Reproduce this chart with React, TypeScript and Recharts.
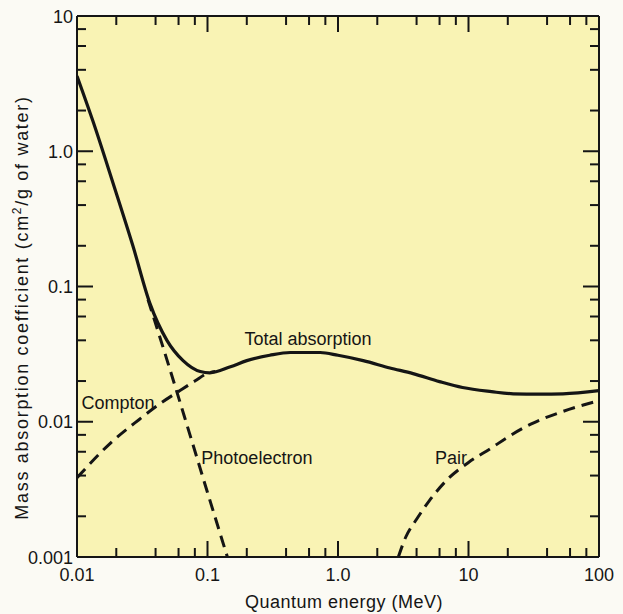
import React from "react";
import { LineChart, Line, XAxis, YAxis, CartesianGrid, ReferenceDot } from "recharts";

// energy axis (MeV), log scale
const energyTicks = [0.01, 0.02, 0.04, 0.06, 0.08, 0.1, 0.2, 0.4, 0.6, 0.8, 1, 2, 4, 6, 8, 10, 20, 40, 60, 80, 100];
const energyMajor = [0.01, 0.1, 1, 10, 100];
const energyLabels = ["0.01", "0.1", "1.0", "10", "100"];

// coefficient axis (cm2/g), log scale
const coeffTicks = [0.001, 0.002, 0.004, 0.006, 0.008, 0.01, 0.02, 0.04, 0.06, 0.08, 0.1, 0.2, 0.4, 0.6, 0.8, 1, 2, 4, 6, 8, 10];
const coeffMajor = [0.001, 0.01, 0.1, 1, 10];
const coeffLabels = ["0.001", "0.01", "0.1", "1.0", "10"];

const totalEnergy = [0.01, 0.0133, 0.0189, 0.0268, 0.0362, 0.049, 0.065, 0.088, 0.104, 0.15, 0.2, 0.3, 0.43, 0.73, 1.0, 1.56, 2.5, 3.76, 6, 9, 15, 22, 35, 53, 100];
const totalCoeff = [3.6, 1.65, 0.58, 0.2, 0.075, 0.0398, 0.0283, 0.0235, 0.023, 0.0255, 0.0283, 0.031, 0.0325, 0.0325, 0.031, 0.0283, 0.025, 0.0227, 0.0198, 0.0179, 0.0167, 0.0161, 0.016, 0.0161, 0.017];

const comptonEnergy = [0.01, 0.0179, 0.03, 0.0432, 0.0615, 0.08, 0.1, 0.115];
const comptonCoeff = [0.00385, 0.0069, 0.0104, 0.0136, 0.017, 0.02, 0.0228, 0.0235];

const photoEnergy = [0.035, 0.05, 0.07, 0.1, 0.142];
const photoCoeff = [0.08, 0.0268, 0.0093, 0.003, 0.001];

const pairEnergy = [2.9, 3.3, 4, 5, 7, 10, 15, 20, 30, 50, 70, 100];
const pairCoeff = [0.001, 0.0014, 0.0019, 0.0026, 0.0038, 0.005, 0.0064, 0.0077, 0.0096, 0.0117, 0.013, 0.0143];

const zip = (xs: number[], ys: number[]) => xs.map((x, i) => ({ x, y: ys[i] }));
const totalData = zip(totalEnergy, totalCoeff);
const comptonData = zip(comptonEnergy, comptonCoeff);
const photoData = zip(photoEnergy, photoCoeff);
const pairData = zip(pairEnergy, pairCoeff);

const INK = "#151515";
const FONT = "'Liberation Sans', Arial, Helvetica, sans-serif";

function majorIndex(majors: number[], v: number) {
  return majors.findIndex((m) => Math.abs(m - v) / m < 1e-6);
}

function makeTick(side: "bottom" | "top" | "left" | "right", majors: number[], labels: string[] | null) {
  return (props: any) => {
    const { x, y, payload } = props;
    const idx = majorIndex(majors, payload.value);
    const len = idx >= 0 ? 16 : 9;
    let x2 = x, y2 = y;
    if (side === "bottom") y2 = y - len;
    if (side === "top") y2 = y + len;
    if (side === "left") x2 = x + len;
    if (side === "right") x2 = x - len;
    return (
      <g>
        <line x1={x} y1={y} x2={x2} y2={y2} stroke={INK} strokeWidth={2} />
        {labels && idx >= 0 && side === "bottom" && (
          <text x={x} y={y + 24} textAnchor="middle" fontSize={18} fontFamily={FONT} fill={INK}>
            {labels[idx]}
          </text>
        )}
        {labels && idx >= 0 && side === "left" && (
          <text x={x - 4} y={y + 6.5} textAnchor="end" fontSize={18} fontFamily={FONT} fill={INK}>
            {labels[idx]}
          </text>
        )}
      </g>
    );
  };
}

function XTitle(props: any) {
  const vb = props.viewBox;
  return (
    <text
      x={vb.x + vb.width / 2 + 6}
      y={vb.y + 51}
      textAnchor="middle"
      fontSize={18}
      letterSpacing={0.5}
      fontFamily={FONT}
      fill={INK}
    >
      Quantum energy (MeV)
    </text>
  );
}

function YTitle(props: any) {
  const vb = props.viewBox;
  const cx = vb.x + 11;
  const cy = vb.y + vb.height / 2 + 21;
  return (
    <text
      x={cx}
      y={cy}
      transform={`rotate(-90, ${cx}, ${cy})`}
      textAnchor="middle"
      fontSize={18}
      letterSpacing={1.7}
      fontFamily={FONT}
      fill={INK}
    >
      Mass absorption coefficient (cm
      <tspan dy={-7} fontSize={12}>2</tspan>
      <tspan dy={7}>/g of water)</tspan>
    </text>
  );
}

const axisLine = { stroke: INK, strokeWidth: 2 };

export default function App() {
  const labelStyle = { fontSize: 18, fontFamily: FONT, fill: INK };
  return (
    <div style={{ position: "absolute", left: 0, top: 0, width: 623, height: 614, background: "#FBFAF4" }}>
      <LineChart width={623} height={614} margin={{ top: 15, right: 23, left: 17, bottom: 0 }}>
        <CartesianGrid fill="#F9F3B4" stroke="none" horizontal={false} vertical={false} />
        <XAxis
          xAxisId="bottom"
          dataKey="x"
          type="number"
          scale="log"
          domain={[0.01, 100]}
          allowDataOverflow
          ticks={energyTicks}
          interval={0}
          height={57}
          tickSize={0}
          tickMargin={0}
          tickLine={false}
          axisLine={axisLine}
          tick={makeTick("bottom", energyMajor, energyLabels)}
          label={{ content: XTitle }}
        />
        <XAxis
          xAxisId="top"
          orientation="top"
          dataKey="x"
          type="number"
          scale="log"
          domain={[0.01, 100]}
          allowDataOverflow
          ticks={energyTicks}
          interval={0}
          height={1}
          tickSize={0}
          tickMargin={0}
          tickLine={false}
          axisLine={axisLine}
          tick={makeTick("top", energyMajor, null)}
        />
        <YAxis
          yAxisId="left"
          type="number"
          scale="log"
          domain={[0.001, 10]}
          allowDataOverflow
          ticks={coeffTicks}
          interval={0}
          width={60}
          tickSize={0}
          tickMargin={0}
          tickLine={false}
          axisLine={axisLine}
          tick={makeTick("left", coeffMajor, coeffLabels)}
          label={{ content: YTitle }}
        />
        <YAxis
          yAxisId="right"
          orientation="right"
          type="number"
          scale="log"
          domain={[0.001, 10]}
          allowDataOverflow
          ticks={coeffTicks}
          interval={0}
          width={1}
          tickSize={0}
          tickMargin={0}
          tickLine={false}
          axisLine={axisLine}
          tick={makeTick("right", coeffMajor, null)}
        />
        <Line xAxisId="bottom" yAxisId="left" data={comptonData} dataKey="y" type="monotone" stroke={INK} strokeWidth={3} strokeDasharray="12 7" dot={false} isAnimationActive={false} />
        <Line xAxisId="bottom" yAxisId="left" data={photoData} dataKey="y" type="monotone" stroke={INK} strokeWidth={3} strokeDasharray="12 7" dot={false} isAnimationActive={false} />
        <Line xAxisId="bottom" yAxisId="left" data={pairData} dataKey="y" type="monotone" stroke={INK} strokeWidth={3} strokeDasharray="12 7" dot={false} isAnimationActive={false} />
        <Line xAxisId="bottom" yAxisId="left" data={totalData} dataKey="y" type="monotone" stroke={INK} strokeWidth={3.2} dot={false} isAnimationActive={false} />
        <Line xAxisId="top" yAxisId="right" data={totalData} dataKey="y" stroke="none" dot={false} isAnimationActive={false} />
        <ReferenceDot xAxisId="bottom" yAxisId="left" x={0.59} y={0.0412} r={1} fillOpacity={0} strokeOpacity={0} label={{ value: "Total absorption", position: "center", ...labelStyle }} />
        <ReferenceDot xAxisId="bottom" yAxisId="left" x={0.0206} y={0.0138} r={1} fillOpacity={0} strokeOpacity={0} label={{ value: "Compton", position: "center", ...labelStyle }} />
        <ReferenceDot xAxisId="bottom" yAxisId="left" x={0.239} y={0.0054} r={1} fillOpacity={0} strokeOpacity={0} label={{ value: "Photoelectron", position: "center", ...labelStyle }} />
        <ReferenceDot xAxisId="bottom" yAxisId="left" x={7.35} y={0.0054} r={1} fillOpacity={0} strokeOpacity={0} label={{ value: "Pair", position: "center", ...labelStyle }} />
      </LineChart>
    </div>
  );
}
